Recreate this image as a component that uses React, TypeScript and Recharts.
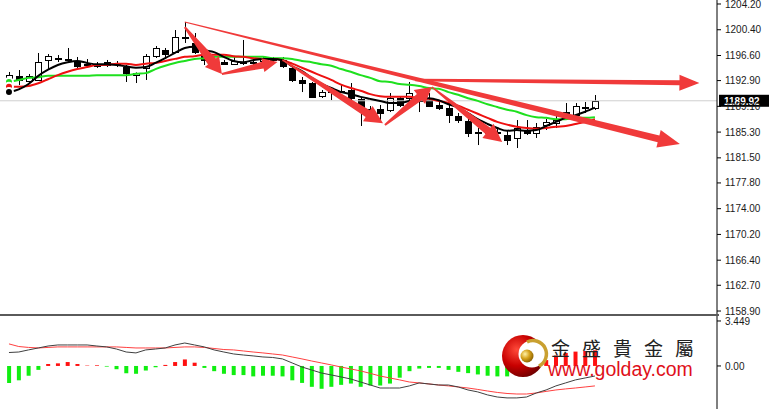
import { ComposedChart, Bar, Line, XAxis, YAxis, ReferenceLine, Cell } from 'recharts';

document.body.style.margin = '0';

// candle index (x) and OHLC
const idx = [
  0, 1, 2, 3, 4, 5, 6, 7, 8, 9, 10, 11, 12, 13, 14, 15, 16, 17, 18, 19,
  20, 21, 22, 23, 24, 25, 26, 27, 28, 29, 30, 31, 32, 33, 34, 35, 36, 37, 38, 39,
  40, 41, 42, 43, 44, 45, 46, 47, 48, 49, 50, 51, 52, 53, 54, 55, 56, 57, 58, 59, 60,
];
const opens = [
  1192.84, 1193.58, 1192.84, 1192.99, 1195.94, 1196.08, 1196.08, 1195.79, 1195.35, 1195.35,
  1195.64, 1195.35, 1194.9, 1193.72, 1194.76, 1196.53, 1197.41, 1197.12, 1199.33, 1198.45,
  1196.67, 1195.94, 1195.64, 1195.35, 1195.64, 1195.55, 1195.79, 1196.08, 1195.94, 1194.76,
  1192.99, 1192.54, 1190.62, 1191.36, 1191.36, 1191.51, 1190.18, 1188.71, 1188.71, 1188.56,
  1190.33, 1190.33, 1190.03, 1190.03, 1189.3, 1188.85, 1187.67, 1186.94, 1185.31, 1185.25,
  1185.31, 1184.87, 1184.43, 1185.61, 1185.16, 1186.35, 1186.64, 1188.12, 1187.82, 1189.0, 1188.85,
];
const highs = [
  1194.17, 1194.46, 1193.87, 1196.97, 1196.82, 1196.67, 1197.71, 1196.38, 1196.08, 1195.64,
  1195.94, 1195.79, 1195.2, 1194.1, 1196.82, 1198.0, 1197.71, 1200.36, 1201.54, 1199.92,
  1196.97, 1196.3, 1195.94, 1196.38, 1198.89, 1196.08, 1196.38, 1196.38, 1196.38, 1195.2,
  1193.43, 1192.69, 1191.51, 1191.66, 1192.25, 1192.54, 1190.33, 1189.15, 1189.3, 1191.07,
  1190.62, 1192.69, 1191.07, 1191.07, 1190.03, 1189.59, 1188.12, 1187.53, 1185.9, 1185.9,
  1185.9, 1185.61, 1187.08, 1187.08, 1186.64, 1187.23, 1188.12, 1189.59, 1189.59, 1189.74, 1190.77,
];
const lows = [
  1192.4, 1192.25, 1192.54, 1192.9, 1194.46, 1195.64, 1195.64, 1194.76, 1194.76, 1194.76,
  1194.9, 1194.9, 1192.69, 1192.54, 1192.99, 1196.23, 1196.23, 1196.97, 1198.45, 1196.82,
  1195.2, 1194.9, 1195.2, 1195.2, 1195.2, 1195.2, 1195.64, 1195.64, 1194.76, 1192.69,
  1191.21, 1190.33, 1190.33, 1190.03, 1191.07, 1190.03, 1186.2, 1188.12, 1186.79, 1188.26,
  1189.0, 1189.5, 1188.26, 1189.0, 1188.56, 1186.64, 1186.64, 1184.57, 1183.39, 1184.7,
  1184.57, 1183.39, 1182.95, 1184.87, 1184.43, 1185.61, 1185.9, 1187.82, 1187.4, 1188.12, 1188.56,
];
const closes = [
  1193.72, 1192.99, 1193.58, 1195.64, 1196.53, 1196.23, 1196.15, 1195.05, 1195.3, 1195.05,
  1195.2, 1195.49, 1194.02, 1194.02, 1196.53, 1197.71, 1196.82, 1199.33, 1199.18, 1197.12,
  1195.94, 1195.35, 1195.35, 1195.79, 1195.55, 1195.64, 1196.08, 1195.94, 1195.05, 1192.99,
  1192.54, 1190.48, 1191.21, 1191.3, 1191.4, 1190.33, 1189.0, 1188.75, 1188.12, 1190.33,
  1189.3, 1191.07, 1190.1, 1189.15, 1188.85, 1187.82, 1187.08, 1185.16, 1185.25, 1185.31,
  1185.2, 1184.13, 1185.9, 1185.16, 1186.05, 1186.79, 1187.08, 1188.2, 1189.15, 1189.05, 1189.92,
];

// moving averages as drawn
const maFast = [
  1191.2, 1191.6, 1192.4, 1193.6, 1194.5, 1195.2, 1195.6, 1195.8, 1195.5, 1195.3,
  1195.3, 1195.2, 1195.0, 1194.8, 1194.9, 1195.5, 1196.2, 1197.0, 1197.7, 1197.9,
  1197.4, 1197.1, 1196.4, 1195.8, 1195.6, 1195.9, 1196.1, 1196.1, 1195.9, 1195.0,
  1194.3, 1193.3, 1192.4, 1191.8, 1191.2, 1190.9, 1190.5, 1190.2, 1189.9, 1189.6,
  1189.6, 1189.9, 1190.2, 1190.3, 1190.0, 1189.4, 1188.9, 1188.1, 1187.2, 1186.5,
  1185.9, 1185.5, 1185.6, 1185.5, 1185.6, 1186.2, 1186.8, 1187.4, 1187.8, 1188.3, 1188.9,
];
const maMid = [
  1192.0, 1192.0, 1192.1, 1192.5, 1193.1, 1193.7, 1194.2, 1194.6, 1194.9, 1195.2,
  1195.2, 1195.4, 1195.4, 1195.2, 1195.4, 1195.5, 1195.8, 1196.1, 1196.4, 1196.5,
  1196.7, 1196.7, 1196.7, 1196.5, 1196.4, 1196.2, 1196.1, 1196.1, 1195.9, 1195.4,
  1194.8, 1194.2, 1193.6, 1193.0, 1192.3, 1191.8, 1191.4, 1190.9, 1190.6, 1190.5,
  1190.5, 1190.5, 1190.3, 1190.2, 1189.9, 1189.6, 1189.2, 1188.6, 1188.0, 1187.4,
  1186.8, 1186.4, 1186.1, 1185.9, 1185.8, 1185.9, 1186.1, 1186.2, 1186.5, 1186.8, 1187.2,
];
const maSlow = [
  1192.7, 1193.0, 1193.3, 1193.4, 1193.6, 1193.6, 1193.6, 1193.6, 1193.6, 1193.7,
  1193.7, 1193.7, 1193.7, 1193.9, 1194.0, 1194.6, 1195.1, 1195.5, 1195.8, 1196.1,
  1196.2, 1196.4, 1196.4, 1196.4, 1196.4, 1196.4, 1196.4, 1196.2, 1196.2, 1196.1,
  1195.8, 1195.6, 1195.3, 1195.1, 1194.6, 1194.2, 1193.7, 1193.3, 1192.8, 1192.7,
  1192.4, 1192.3, 1192.1, 1191.8, 1191.7, 1191.2, 1190.8, 1190.3, 1189.9, 1189.4,
  1189.0, 1188.6, 1188.3, 1187.8, 1187.5, 1187.4, 1187.2, 1187.2, 1187.4, 1187.4, 1187.5,
];

// MACD pane
const macd = [
  1.03, 1.07, 1.23, 1.38, 1.53, 1.61, 1.61, 1.61, 1.61, 1.53,
  1.46, 1.3, 1.07, 1.0, 1.23, 1.3, 1.38, 1.61, 1.76, 1.61,
  1.46, 1.23, 1.07, 0.92, 0.84, 0.77, 0.69, 0.65, 0.54, 0.23,
  -0.08, -0.31, -0.54, -0.69, -0.84, -1.0, -1.23, -1.46, -1.69, -1.69,
  -1.69, -1.53, -1.3, -1.38, -1.46, -1.46, -1.61, -1.84, -1.99, -2.22,
  -2.38, -2.45, -2.45, -2.38, -2.07, -1.84, -1.53, -1.3, -1.07, -0.92, -0.77,
];
const signal = [
  1.69, 1.49, 1.42, 1.38, 1.42, 1.46, 1.46, 1.46, 1.46, 1.46,
  1.46, 1.46, 1.42, 1.38, 1.38, 1.38, 1.38, 1.42, 1.46, 1.46,
  1.42, 1.34, 1.26, 1.23, 1.15, 1.07, 1.0, 0.92, 0.84, 0.69,
  0.54, 0.38, 0.23, 0.08, -0.08, -0.23, -0.38, -0.57, -0.77, -0.92,
  -1.07, -1.23, -1.3, -1.38, -1.46, -1.53, -1.61, -1.69, -1.8, -1.92,
  -2.03, -2.11, -2.15, -2.15, -2.07, -1.95, -1.84, -1.76, -1.69, -1.61, -1.53,
];
const hist = [
  -1.3, -1.1, -0.75, -0.3, 0.15, 0.2, 0.3, 0.15, 0.03, 0.05,
  -0.05, -0.25, -0.55, -0.6, -0.35, -0.1, 0.08, 0.3, 0.5, 0.25,
  -0.15, -0.4, -0.6, -0.7, -0.7, -0.8, -0.75, -0.75, -0.8, -1.1,
  -1.3, -1.6, -1.75, -1.6, -1.45, -1.35, -1.6, -1.5, -1.5, -1.35,
  -0.9, -0.4, -0.2, -0.15, -0.15, -0.3, -0.45, -0.55, -0.65, -0.75,
  -0.8, -0.8, -0.6, -0.4, 0.1, 0.45, 0.8, 1.0, 1.1, 1.15, 1.2,
];

const priceTicks = [1158.9, 1162.7, 1166.4, 1170.2, 1174.0, 1177.8, 1181.5, 1185.3, 1189.1, 1192.9, 1196.6, 1200.4, 1204.2];
const macdTicks = [0, 3.449];
const lastPrice = 1189.92;

// hand-drawn arrows: [fromIndex, fromPrice, toIndex, toPrice]
const arrowPaths = [
  [18.0, 1201.54, 68.7, 1183.54],
  [41.6, 1193.0, 70.7, 1192.54],
  [18.0, 1200.8, 21.8, 1193.87],
  [21.8, 1193.87, 27.5, 1195.64],
  [28.0, 1195.94, 38.3, 1186.6],
  [38.5, 1186.35, 43.3, 1191.95],
  [43.3, 1191.95, 50.5, 1183.84],
];
const arrowSizes = [
  [1.2, 7, 18, 22],
  [2.5, 5, 16, 20],
  [2, 10, 18, 16],
  [2, 7, 14, 15],
  [1.5, 8, 18, 18],
  [2, 8, 18, 16],
  [1.5, 8, 18, 18],
];

const rows = idx.map((i, k) => ({
  i,
  open: opens[k], high: highs[k], low: lows[k], close: closes[k],
  maFast: maFast[k], maMid: maMid[k], maSlow: maSlow[k],
  macd: macd[k], signal: signal[k], hist: hist[k],
}));

const X_DOMAIN = [-0.92, 72.5];
const AXIS_FONT = { fontSize: 10, fill: '#1a1a1a', fontFamily: 'Liberation Sans, Arial, sans-serif' };

function Candle(props: any) {
  const { x, y, width, height, payload } = props;
  const top = Math.min(y, y + height);
  const h = Math.abs(height);
  const range = payload.high - payload.low;
  const k = range > 0 ? h / range : 0;
  const yO = top + (payload.high - payload.open) * k;
  const yC = top + (payload.high - payload.close) * k;
  const cx = Math.round(x + width / 2) + 0.5;
  const bTop = Math.round(Math.min(yO, yC)) + 0.5;
  const bH = Math.max(Math.round(Math.abs(yC - yO)), 1);
  const up = payload.close >= payload.open;
  return (
    <g>
      <line x1={cx} x2={cx} y1={top} y2={top + h} stroke="#000" strokeWidth={1} />
      <rect x={cx - 3} y={bTop} width={6} height={bH} fill={up ? '#fff' : '#000'} stroke="#000" strokeWidth={1} />
    </g>
  );
}

const makeArrow = (tail: number, body: number, head: number, headLen: number) => (p: any) => {
  const { x1, y1, x2, y2 } = p;
  const dx = x2 - x1;
  const dy = y2 - y1;
  const L = Math.hypot(dx, dy) || 1;
  const ux = dx / L, uy = dy / L;
  const nx = -uy, ny = ux;
  const bx = x2 - ux * headLen, by = y2 - uy * headLen;
  const pts = [
    [x1 + (nx * tail) / 2, y1 + (ny * tail) / 2],
    [bx + (nx * body) / 2, by + (ny * body) / 2],
    [bx + (nx * head) / 2, by + (ny * head) / 2],
    [x2, y2],
    [bx - (nx * head) / 2, by - (ny * head) / 2],
    [bx - (nx * body) / 2, by - (ny * body) / 2],
    [x1 - (nx * tail) / 2, y1 - (ny * tail) / 2],
  ];
  return <path d={'M' + pts.map((q) => q[0].toFixed(1) + ',' + q[1].toFixed(1)).join('L') + 'Z'} fill="#f03a3a" />;
};

function PriceTag(props: any) {
  const vb = props.viewBox || {};
  const x = (vb.x || 0) + (vb.width || 0) + 2;
  const y = vb.y || 0;
  return (
    <g>
      <rect x={x} y={y - 6} width={50} height={12} fill="#000" />
      <text x={x + 5} y={y + 4} fill="#fff" fontSize={10} fontWeight="bold" fontFamily="Liberation Sans, Arial, sans-serif">
        {lastPrice.toFixed(2)}
      </text>
    </g>
  );
}

function Logo() {
  return (
    <svg width={769} height={409} style={{ position: 'absolute', left: 0, top: 0, pointerEvents: 'none' }}>
      <defs>
        <radialGradient id="redBall" cx="35%" cy="35%" r="70%">
          <stop offset="0" stopColor="#ff4a3a" />
          <stop offset="0.55" stopColor="#c80000" />
          <stop offset="1" stopColor="#700000" />
        </radialGradient>
        <radialGradient id="goldBall" cx="35%" cy="35%" r="70%">
          <stop offset="0" stopColor="#fff2a8" />
          <stop offset="0.5" stopColor="#d6a21c" />
          <stop offset="1" stopColor="#8a6000" />
        </radialGradient>
      </defs>
      <circle cx={523} cy={356} r={21} fill="url(#redBall)" />
      <circle cx={532} cy={354} r={13.5} fill="#fff" />
      <path d="M 527 342 A 12 12 0 0 1 539 366" stroke="#c9a030" strokeWidth={3.5} fill="none" />
      <circle cx={527} cy={356} r={6.5} fill="url(#goldBall)" />
      <text x={551} y={356} fontSize={19} letterSpacing={12} fill="#222" fontFamily="Noto Sans CJK TC, Noto Sans CJK SC, sans-serif">
        金盛貴金屬
      </text>
      <text x={548} y={376} fontSize={19.5} fill="#e0101a" fontFamily="Liberation Sans, Arial, sans-serif">
        www.golday.com
      </text>
    </svg>
  );
}

export default function App() {
  return (
    <div style={{ position: 'relative', width: 769, height: 409, background: '#fff', overflow: 'hidden' }}>
      <div style={{ position: 'relative', height: 324, marginBottom: -10, zIndex: 1 }}>
        <ComposedChart width={769} height={324} data={rows} margin={{ top: 0, right: 0, bottom: 10, left: 0 }}>
          <XAxis dataKey="i" type="number" domain={X_DOMAIN} hide allowDataOverflow />
          <YAxis
            orientation="right"
            width={52}
            domain={[1158.46, 1204.79]}
            allowDataOverflow
            ticks={priceTicks}
            interval={0}
            tickFormatter={(v: number) => v.toFixed(2)}
            tick={AXIS_FONT}
            tickSize={4}
            tickMargin={4}
            axisLine={{ stroke: '#000' }}
            tickLine={{ stroke: '#000' }}
          />
          <ReferenceLine y={lastPrice} stroke="#cfcfcf" strokeWidth={1} label={<PriceTag />} ifOverflow="visible" />
          <Bar dataKey={(d: any) => [d.low, d.high]} barSize={6} shape={<Candle />} isAnimationActive={false} />
          <Line type="monotone" dataKey="maSlow" stroke="#1ee01e" strokeWidth={2} dot={false} isAnimationActive={false} />
          <Line type="monotone" dataKey="maMid" stroke="#ee1010" strokeWidth={2} dot={false} isAnimationActive={false} />
          <Line type="monotone" dataKey="maFast" stroke="#000" strokeWidth={2} dot={false} isAnimationActive={false} />
          {arrowPaths.map((a, k) => (
            <ReferenceLine
              key={k}
              segment={[{ x: a[0], y: a[1] }, { x: a[2], y: a[3] }]}
              ifOverflow="visible"
              shape={makeArrow(arrowSizes[k][0], arrowSizes[k][1], arrowSizes[k][2], arrowSizes[k][3])}
            />
          ))}
        </ComposedChart>
      </div>
      <div style={{ width: 719, height: 2, background: '#5a5a5a' }} />
      <ComposedChart width={769} height={93} data={rows} margin={{ top: 0, right: 0, bottom: 0, left: 0 }}>
        <XAxis dataKey="i" type="number" domain={X_DOMAIN} hide allowDataOverflow />
        <YAxis
          orientation="right"
          width={52}
          domain={[-3.3, 3.83]}
          allowDataOverflow
          ticks={macdTicks}
          interval={0}
          tickFormatter={(v: number) => (v === 0 ? '0.00' : v.toFixed(3))}
          tick={AXIS_FONT}
          tickSize={4}
          tickMargin={4}
          axisLine={{ stroke: '#000' }}
          tickLine={{ stroke: '#000' }}
        />
        <Bar dataKey="hist" barSize={4} isAnimationActive={false}>
          {rows.map((r, k) => (
            <Cell key={k} fill={r.hist >= 0 ? '#ff1010' : '#10ee10'} />
          ))}
        </Bar>
        <Line type="linear" dataKey="signal" stroke="#ff4040" strokeWidth={1} dot={false} isAnimationActive={false} />
        <Line type="linear" dataKey="macd" stroke="#404040" strokeWidth={1} dot={false} isAnimationActive={false} />
      </ComposedChart>
      <Logo />
    </div>
  );
}
